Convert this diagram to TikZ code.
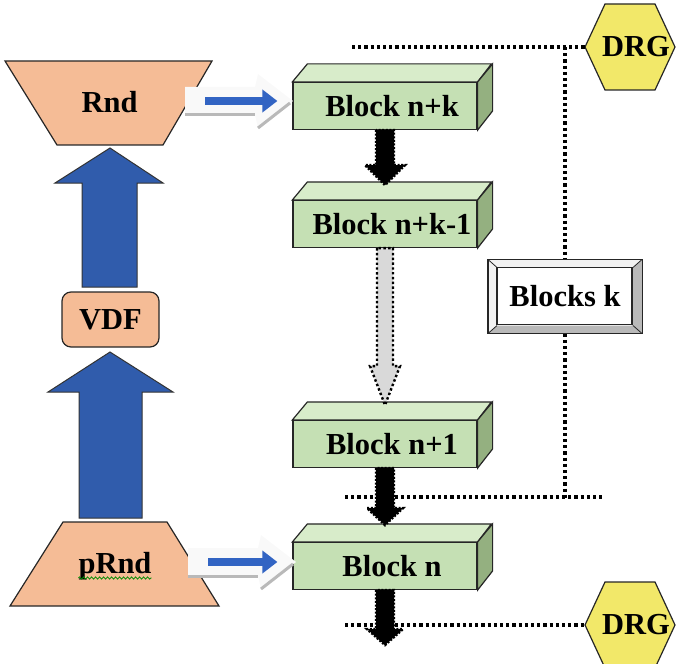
\documentclass[tikz,border=0pt]{standalone}
\usepackage{fontspec}
\setmainfont{Liberation Serif}
\usetikzlibrary{arrows.meta,decorations.pathmorphing}
\definecolor{peach}{RGB}{245,188,150}
\definecolor{bigblue}{RGB}{48,92,172}
\definecolor{flowblue}{RGB}{50,100,195}
\definecolor{blockfront}{RGB}{197,224,180}
\definecolor{blocktopc}{RGB}{216,236,202}
\definecolor{blocksidec}{RGB}{148,176,128}
\definecolor{drgyellow}{RGB}{242,232,105}
\begin{document}
\begin{tikzpicture}[x=1pt,y=-1pt,
	lbl/.style={font=\bfseries\fontsize{30.5}{36}\selectfont, inner sep=0pt},
	outline/.style={draw=black!85, line width=1.2pt},
	peachshape/.style={outline, fill=peach},
	bigarrow/.style={draw=black!80, line width=1pt, fill=bigblue},
	blockface/.style={outline, fill=blockfront, minimum width=184pt, minimum height=47pt, inner sep=0pt},
	blocktop/.style={outline, fill=blocktopc},
	blockside/.style={outline, fill=blocksidec},
	blackarrow/.style={fill=black, draw=black, line width=2.4pt, dash pattern=on 2pt off 1.6pt},
	grayarrow/.style={fill=gray!30, draw=black, line width=2.4pt, dash pattern=on 2.4pt off 2.4pt},
	flowarrow/.style={flowblue, line width=8pt, -{Triangle[length=15pt,width=22pt]}},
	shadowline/.style={gray!55, line width=3pt},
	dotline/.style={black, line width=3.2pt, dash pattern=on 3.2pt off 3pt},
	drgshape/.style={outline, fill=drgyellow},
	bevelbox/.style={outline, fill=white, minimum width=153pt, minimum height=73pt},
	squiggle/.style={green!55!black, line width=0.8pt, decorate, decoration={snake, amplitude=1.1pt, segment length=4pt}}]
	\useasboundingbox (0,0) rectangle (676,663);

	% left column
	\draw[bigarrow] (82,287) -- (82,183) -- (55,183) -- (110,148) -- (163,183) -- (137,183) -- (137,287) -- cycle;
	\draw[bigarrow] (79,518) -- (79,392) -- (48,392) -- (110,352) -- (173,392) -- (142,392) -- (142,518) -- cycle;

	\draw[peachshape] (5,61) -- (212,61) -- (163,145) -- (57,145) -- cycle;
	\node[lbl, anchor=base] (rnd) at (109.5,113) {Rnd};

	\node[peachshape, rounded corners=9pt, minimum width=97pt, minimum height=55pt, lbl] (vdf) at (110.5,319.5) {VDF};

	\draw[peachshape] (63,522) -- (167,522) -- (219,606) -- (10,606) -- cycle;
	\node[lbl, anchor=base] (prnd) at (115,573) {pRnd};
	\draw[squiggle] ([yshift=-5pt]prnd.base west) -- ([yshift=-5pt]prnd.base east);

	% blocks
	\foreach \nm/\yc/\txt in {bnk/106/Block n+k, bnkm/224/Block n+k-1, bna/444/Block n+1, bn/566/Block n}{
		\node[blockface] (\nm) at (385,\yc) {};
		\draw[blocktop] (\nm.north west) -- ++(15,-18) -- ++(184,0) -- (\nm.north east) -- cycle;
		\draw[blockside] (\nm.north east) -- ++(15,-18) -- ++(0,47) -- (\nm.south east) -- cycle;
		\node[lbl] (\nm-t) at ([xshift=7pt]\nm.center) {\txt};
	}

	% arrows between blocks
	\draw[blackarrow] (bnk.south) ++(-9,0) -- ++(0,35) -- ++(-11,0) -- ++(20,20) -- ++(20,-20) -- ++(-11,0) -- ++(0,-35) -- cycle;
	\draw[grayarrow] (bnkm.south) ++(-8,0) -- ++(0,118) -- ++(-7,0) -- ++(15,39) -- ++(15,-39) -- ++(-7,0) -- ++(0,-118) -- cycle;
	\draw[blackarrow] (bna.south) ++(-9,0) -- ++(0,40) -- ++(-9,0) -- ++(18,17) -- ++(18,-17) -- ++(-9,0) -- ++(0,-40) -- cycle;
	\draw[blackarrow] (bn.south) ++(-9,0) -- ++(0,39) -- ++(-9,0) -- ++(18,16) -- ++(18,-16) -- ++(-9,0) -- ++(0,-39) -- cycle;

	% blue arrows into the blocks
	\coordinate (rndout) at (205,101);
	\coordinate (prndout) at (208,562);
	\foreach \c/\b in {rndout/bnk, prndout/bn}{
		\fill[gray!5] (\c) ++(-20,-14) -- ++(70,0) -- ++(3,-13) -- ++(35,27) -- ++(-35,27) -- ++(-3,-13) -- ++(-70,0) -- cycle;
		\draw[shadowline] (\c) ++(-20,14) -- ++(70,0);
		\draw[shadowline] (\c) ++(53,27) -- ++(32,-25);
		\draw[flowarrow, shorten >=15pt] (\c) -- (\c -| \b.west);
	}

	% DRG markers
	\foreach \nm/\yc in {drgtop/47, drgbot/625}{
		\draw[drgshape] (585,\yc) coordinate (\nm-tip) -- ++(20,-43) -- ++(50,0) -- ++(20,43) -- ++(-20,43) -- ++(-50,0) -- cycle;
		\node[lbl] (\nm) at (636,\yc) {DRG};
	}

	% Blocks k
	\node[bevelbox, lbl] (bk) at (565,296.5) {Blocks k};
	\fill[gray!10] (bk.north west) -- (bk.north east) -- ++(-9,8) -- ++(-135,0) -- ++(0,57) -- (bk.south west) -- cycle;
	\fill[gray!55] (bk.north east) -- (bk.south east) -- (bk.south west) -- ++(9,-8) -- ++(135,0) -- ++(0,-57) -- cycle;
	\draw[outline] (bk.north west) rectangle (bk.south east);
	\draw[outline] (bk.north west) ++(9,8) rectangle ++(135,57);
	\draw[outline, line width=0.8pt] (bk.north west) -- ++(9,8);
	\draw[outline, line width=0.8pt] (bk.north east) -- ++(-9,8);
	\draw[outline, line width=0.8pt] (bk.south east) -- ++(-9,-8);
	\draw[outline, line width=0.8pt] (bk.south west) -- ++(9,-8);

	% dotted guides
	\draw[dotline] (352,47) -- (drgtop-tip);
	\draw[dotline] (bk.north |- drgtop-tip) -- (bk.north);
	\draw[dotline] (bk.south) -- ++(0,164) coordinate (kbot);
	\draw[dotline] (345,497) -- (602,497);
	\draw[dotline] (345,625) -- (drgbot-tip);
\end{tikzpicture}
\end{document}
